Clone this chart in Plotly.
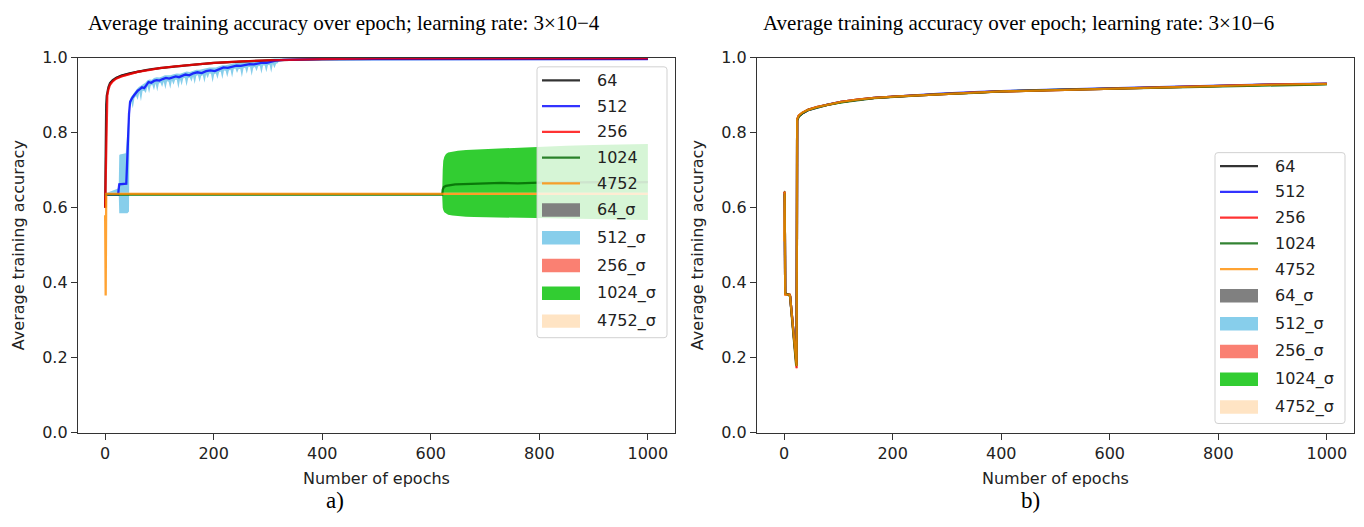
import plotly.graph_objects as go

W, H = 1364, 527

# ---------------- panel a) learning rate 3e-4 ----------------
ep_a_fast = [0, 1, 2, 3, 4, 6, 9, 14, 20, 30, 45, 60, 80, 100, 130, 160, 200, 250, 300, 400, 500, 700, 1000]
acc_a_64 = [0.600, 0.790, 0.875, 0.898, 0.910, 0.921, 0.932, 0.940, 0.946, 0.952, 0.958, 0.963, 0.968, 0.972,
            0.977, 0.981, 0.986, 0.990, 0.993, 0.996, 0.997, 0.997, 0.997]
acc_a_256 = [0.600, 0.700, 0.830, 0.880, 0.900, 0.915, 0.928, 0.937, 0.944, 0.950, 0.957, 0.962, 0.967, 0.972,
             0.977, 0.981, 0.986, 0.990, 0.993, 0.996, 0.998, 0.998, 0.998]
sd_a_64 = [0.004, 0.010, 0.008, 0.006, 0.005, 0.004, 0.004, 0.003, 0.003, 0.003, 0.003, 0.003, 0.002, 0.002,
           0.002, 0.002, 0.002, 0.002, 0.001, 0.001, 0.001, 0.001, 0.001]
sd_a_256 = [0.004, 0.012, 0.009, 0.006, 0.005, 0.004, 0.004, 0.003, 0.003, 0.003, 0.003, 0.003, 0.002, 0.002,
            0.002, 0.002, 0.002, 0.002, 0.001, 0.001, 0.001, 0.001, 0.001]

ep_a_512 = [0, 24, 25, 26, 39, 40, 42, 44, 46, 48, 50, 53, 56, 60, 64, 68, 72, 76, 80, 85, 90, 95, 100, 106, 112,
            118, 124, 130, 136, 142, 148, 155, 162, 170, 178, 186, 194, 202, 210, 218, 226, 234, 242, 250, 258,
            266, 274, 282, 290, 298, 306, 314, 330, 360, 400, 500, 700, 1000]
acc_a_512 = [0.635, 0.635, 0.650, 0.662, 0.664, 0.700, 0.790, 0.850, 0.882, 0.890, 0.893, 0.899, 0.905, 0.912,
             0.916, 0.921, 0.919, 0.928, 0.935, 0.933, 0.938, 0.940, 0.939, 0.943, 0.946, 0.944, 0.948, 0.950,
             0.948, 0.952, 0.955, 0.953, 0.958, 0.961, 0.959, 0.964, 0.966, 0.964, 0.969, 0.974, 0.973, 0.977,
             0.979, 0.978, 0.981, 0.983, 0.982, 0.985, 0.987, 0.986, 0.990, 0.992, 0.994, 0.995, 0.996, 0.996,
             0.996, 0.996]

# upper edge of the 512 σ band
ep_a_512_hi = [0, 25, 26, 27, 38, 41, 44, 45, 47, 50, 55, 58, 62, 66, 70, 74, 78, 82, 86, 90, 95, 100, 105, 110,
               115, 120, 126, 132, 138, 144, 150, 156, 162, 168, 174, 180, 186, 192, 198, 204, 210, 216, 222,
               228, 234, 240, 246, 252, 258, 264, 270, 276, 282, 288, 294, 300, 306, 312, 320, 330, 360, 1000]
hi_a_512 = [0.638, 0.652, 0.740, 0.742, 0.745, 0.800, 0.875, 0.885, 0.894, 0.901, 0.911, 0.916, 0.922, 0.926,
            0.928, 0.933, 0.940, 0.942, 0.941, 0.946, 0.948, 0.947, 0.950, 0.953, 0.953, 0.953, 0.956, 0.958,
            0.957, 0.961, 0.963, 0.962, 0.966, 0.968, 0.968, 0.969, 0.972, 0.974, 0.973, 0.974, 0.977, 0.980,
            0.980, 0.982, 0.985, 0.986, 0.986, 0.986, 0.989, 0.991, 0.990, 0.991, 0.993, 0.995, 0.995, 0.996,
            0.997, 0.998, 0.998, 0.998, 0.998, 0.998]
# lower edge of the 512 σ band (noisy, with frequent dips)
ep_a_512_lo = [0, 25, 26, 38, 41, 44, 45, 48, 51, 54, 57, 60, 63, 66, 69, 72, 75, 78, 81, 84, 87, 90, 93, 96, 99,
               102, 105, 108, 111, 114, 117, 120, 123, 126, 129, 132, 135, 138, 141, 144, 147, 150, 153, 156, 159,
               162, 165, 168, 171, 174, 177, 180, 183, 186, 189, 192, 195, 198, 201, 204, 207, 210, 213, 216, 219,
               222, 225, 228, 231, 234, 237, 240, 243, 246, 249, 252, 255, 258, 261, 264, 267, 270, 273, 276, 279,
               282, 285, 288, 291, 294, 297, 300, 303, 306, 309, 312, 315, 318, 320, 330, 360, 1000]
lo_a_512 = [0.632, 0.640, 0.585, 0.585, 0.585, 0.590, 0.862, 0.882, 0.865, 0.892, 0.898, 0.887, 0.907, 0.884,
            0.912, 0.911, 0.906, 0.924, 0.905, 0.926, 0.927, 0.913, 0.931, 0.910, 0.931, 0.933, 0.922, 0.936,
            0.916, 0.937, 0.936, 0.917, 0.939, 0.928, 0.941, 0.941, 0.918, 0.942, 0.926, 0.945, 0.946, 0.924,
            0.945, 0.947, 0.936, 0.950, 0.930, 0.952, 0.953, 0.935, 0.951, 0.953, 0.933, 0.956, 0.945, 0.958,
            0.957, 0.934, 0.956, 0.958, 0.943, 0.961, 0.963, 0.943, 0.966, 0.965, 0.948, 0.966, 0.968, 0.947,
            0.970, 0.971, 0.959, 0.970, 0.970, 0.948, 0.972, 0.973, 0.957, 0.975, 0.975, 0.952, 0.973, 0.975,
            0.964, 0.977, 0.978, 0.957, 0.979, 0.979, 0.961, 0.980, 0.981, 0.960, 0.983, 0.972, 0.984, 0.985,
            0.990, 0.992, 0.994, 0.994]

ep_a_1024 = [0, 621, 622, 624, 628, 635, 645, 660, 680, 700, 730, 760, 800, 850, 900, 950, 1000]
acc_a_1024 = [0.635, 0.635, 0.648, 0.655, 0.658, 0.660, 0.662, 0.663, 0.664, 0.665, 0.666, 0.665, 0.667, 0.667,
              0.668, 0.667, 0.668]
ep_a_1024_band = [0, 621, 622, 623, 625, 628, 632, 640, 650, 665, 680, 700, 730, 760, 800, 850, 900, 950, 1000]
hi_a_1024 = [0.637, 0.637, 0.700, 0.725, 0.736, 0.743, 0.747, 0.750, 0.752, 0.754, 0.755, 0.757, 0.759, 0.761,
             0.763, 0.765, 0.767, 0.768, 0.770]
lo_a_1024 = [0.633, 0.633, 0.600, 0.594, 0.588, 0.584, 0.581, 0.579, 0.577, 0.576, 0.575, 0.574, 0.573, 0.572,
             0.571, 0.570, 0.569, 0.568, 0.567]

ep_a_4752 = [0, 1, 2, 1000]
acc_a_4752 = [0.580, 0.366, 0.637, 0.637]
sd_a_4752 = [0.004, 0.004, 0.003, 0.003]

# ---------------- panel b) learning rate 3e-6 ----------------
ep_b = [0, 1, 2, 6, 10, 11, 16, 20, 22, 23, 24, 27, 33, 44, 60, 80, 105, 135, 166, 210, 250, 290, 350, 400, 500,
        600, 700, 800, 900, 1000]
acc_b_64 = [0.643, 0.640, 0.370, 0.368, 0.368, 0.364, 0.280, 0.215, 0.185, 0.180, 0.835, 0.845, 0.852, 0.861,
            0.868, 0.875, 0.882, 0.888, 0.893, 0.897, 0.900, 0.904, 0.907, 0.910, 0.914, 0.918, 0.921, 0.925,
            0.928, 0.930]
acc_b_512 = [0.640, 0.638, 0.371, 0.369, 0.367, 0.363, 0.282, 0.218, 0.188, 0.182, 0.833, 0.844, 0.851, 0.860,
             0.867, 0.875, 0.882, 0.888, 0.893, 0.897, 0.901, 0.904, 0.908, 0.911, 0.915, 0.919, 0.922, 0.926,
             0.929, 0.931]
acc_b_256 = [0.642, 0.639, 0.369, 0.368, 0.368, 0.365, 0.279, 0.212, 0.180, 0.172, 0.834, 0.845, 0.852, 0.861,
             0.868, 0.875, 0.882, 0.888, 0.893, 0.897, 0.900, 0.904, 0.907, 0.910, 0.914, 0.918, 0.921, 0.925,
             0.928, 0.930]
acc_b_1024 = [0.636, 0.636, 0.372, 0.368, 0.366, 0.362, 0.270, 0.205, 0.182, 0.178, 0.832, 0.843, 0.851, 0.860,
              0.867, 0.874, 0.881, 0.887, 0.892, 0.896, 0.900, 0.903, 0.906, 0.910, 0.914, 0.917, 0.921, 0.924,
              0.927, 0.929]
acc_b_4752 = [0.510, 0.643, 0.368, 0.368, 0.368, 0.364, 0.284, 0.220, 0.186, 0.178, 0.836, 0.846, 0.853, 0.861,
              0.868, 0.875, 0.882, 0.888, 0.893, 0.897, 0.900, 0.904, 0.907, 0.910, 0.914, 0.918, 0.921, 0.925,
              0.928, 0.930]
sd_b_64 = [0.004, 0.004, 0.004, 0.003, 0.003, 0.003, 0.004, 0.004, 0.004, 0.004, 0.004, 0.003, 0.003, 0.003,
           0.002, 0.002, 0.002, 0.002, 0.002, 0.002, 0.002, 0.002, 0.002, 0.002, 0.002, 0.002, 0.002, 0.002,
           0.002, 0.002]
sd_b_512 = list(sd_b_64)
sd_b_256 = list(sd_b_64)
sd_b_1024 = list(sd_b_64)
sd_b_4752 = list(sd_b_64)

batch_names = ["64", "512", "256", "1024", "4752"]
line_colors = ["rgba(0,0,0,0.8)", "rgba(0,0,255,0.8)", "rgba(255,0,0,0.8)", "rgba(0,100,0,0.8)",
               "rgba(255,140,0,0.8)"]
band_colors = ["#808080", "#87CEEB", "#FA8072", "#32CD32", "#FFE4C4"]

x_ticks = [0, 200, 400, 600, 800, 1000]
y_ticks = [0.0, 0.2, 0.4, 0.6, 0.8, 1.0]
y_ticktext = ["0.0", "0.2", "0.4", "0.6", "0.8", "1.0"]

fig = go.Figure()


def add_band(x_hi, hi, x_lo, lo, color, xa, ya):
    # closed polygon: upper edge left→right, lower edge right→left
    fig.add_trace(go.Scatter(
        x=list(x_hi) + list(x_lo)[::-1], y=list(hi) + list(lo)[::-1],
        fill="toself", fillcolor=color, line=dict(width=0), mode="lines",
        hoverinfo="skip", showlegend=False, xaxis=xa, yaxis=ya))


def add_sigma_band(x, mean, sd, color, xa, ya):
    add_band(x, [m + s for m, s in zip(mean, sd)], x, [m - s for m, s in zip(mean, sd)], color, xa, ya)


def add_line(x, y, color, xa, ya):
    fig.add_trace(go.Scatter(
        x=x, y=y, mode="lines", line=dict(color=color, width=2.3),
        showlegend=False, xaxis=xa, yaxis=ya))


# panel a bands
add_sigma_band(ep_a_fast, acc_a_64, sd_a_64, band_colors[0], "x", "y")
add_band(ep_a_512_hi, hi_a_512, ep_a_512_lo, lo_a_512, band_colors[1], "x", "y")
add_sigma_band(ep_a_fast, acc_a_256, sd_a_256, band_colors[2], "x", "y")
add_band(ep_a_1024_band, hi_a_1024, ep_a_1024_band, lo_a_1024, band_colors[3], "x", "y")
add_sigma_band(ep_a_4752, acc_a_4752, sd_a_4752, band_colors[4], "x", "y")

# panel a lines
add_line(ep_a_fast, acc_a_64, line_colors[0], "x", "y")
add_line(ep_a_512, acc_a_512, line_colors[1], "x", "y")
add_line(ep_a_fast, acc_a_256, line_colors[2], "x", "y")
add_line(ep_a_1024, acc_a_1024, line_colors[3], "x", "y")
add_line(ep_a_4752, acc_a_4752, line_colors[4], "x", "y")

# panel b
b_means = [acc_b_64, acc_b_512, acc_b_256, acc_b_1024, acc_b_4752]
b_sds = [sd_b_64, sd_b_512, sd_b_256, sd_b_1024, sd_b_4752]
for m_list, s_list, col in zip(b_means, b_sds, band_colors):
    add_sigma_band(ep_b, m_list, s_list, col, "x2", "y2")
for m_list, col in zip(b_means, line_colors):
    add_line(ep_b, m_list, col, "x2", "y2")


def px(x):
    return x / W


def py(y):
    return 1 - y / H


tick_font = dict(family="DejaVu Sans", size=16, color="#222")
axis_common = dict(showline=True, linecolor="#333", linewidth=1.3, mirror=True, ticks="outside",
                   ticklen=6, tickwidth=1.2, tickcolor="#333", showgrid=False, zeroline=False,
                   tickfont=tick_font)

fig.update_layout(
    width=W, height=H, margin=dict(l=0, r=0, t=0, b=0),
    paper_bgcolor="white", plot_bgcolor="white", showlegend=False,
    xaxis=dict(domain=[px(78), px(675)], range=[-50, 1050], tickvals=x_ticks, anchor="y", **axis_common),
    yaxis=dict(domain=[py(439.5), py(50.5)], range=[0, 1], tickvals=y_ticks, ticktext=y_ticktext,
               anchor="x", **axis_common),
    xaxis2=dict(domain=[px(757), px(1354)], range=[-50, 1050], tickvals=x_ticks, anchor="y2", **axis_common),
    yaxis2=dict(domain=[py(439.5), py(50.5)], range=[0, 1], tickvals=y_ticks, ticktext=y_ticktext,
                anchor="x2", **axis_common),
)

label_font = dict(family="DejaVu Sans", size=16, color="#222")
serif_font = dict(family="Liberation Serif", size=21, color="black")
annotations = [
    dict(text="Average training accuracy over epoch; learning rate: 3×10−4", x=px(344), y=py(15), font=serif_font),
    dict(text="Average training accuracy over epoch; learning rate: 3×10−6", x=px(1018), y=py(15),
         font=serif_font),
    dict(text="Number of epochs", x=px(376.5), y=py(487), font=label_font),
    dict(text="Number of epochs", x=px(1055.5), y=py(487), font=label_font),
    dict(text="Average training accuracy", x=px(18), y=py(245), textangle=-90, font=label_font),
    dict(text="Average training accuracy", x=px(697), y=py(245), textangle=-90, font=label_font),
    dict(text="a)", x=px(335), y=py(510), font=dict(family="Liberation Serif", size=23, color="black")),
    dict(text="b)", x=px(1030), y=py(510), font=dict(family="Liberation Serif", size=23, color="black")),
]
for a in annotations:
    a.update(xref="paper", yref="paper", showarrow=False, xanchor="center", yanchor="middle")

# hand-built legends (lines, then σ patches), one per panel
legend_offsets = [14, 40.7, 67.4, 94.1, 120.8, 148.6, 177.4, 206.2, 235, 263.8]
shapes = []


def build_legend(left, top, width=130, height=281):
    r = 3
    x0, x1, y0, y1 = left, left + width, top, top + height
    path = (f"M {px(x0 + r)},{py(y0)} L {px(x1 - r)},{py(y0)} Q {px(x1)},{py(y0)} {px(x1)},{py(y0 + r)} "
            f"L {px(x1)},{py(y1 - r)} Q {px(x1)},{py(y1)} {px(x1 - r)},{py(y1)} "
            f"L {px(x0 + r)},{py(y1)} Q {px(x0)},{py(y1)} {px(x0)},{py(y1 - r)} "
            f"L {px(x0)},{py(y0 + r)} Q {px(x0)},{py(y0)} {px(x0 + r)},{py(y0)} Z")
    shapes.append(dict(type="path", path=path, xref="paper", yref="paper", layer="above",
                       fillcolor="rgba(255,255,255,0.8)", line=dict(color="rgba(204,204,204,0.9)", width=1)))
    labels = batch_names + [n + "_σ" for n in batch_names]
    for i, lab in enumerate(labels):
        yc = top + legend_offsets[i]
        if i < 5:
            shapes.append(dict(type="line", xref="paper", yref="paper", layer="above",
                               x0=px(left + 5), x1=px(left + 43), y0=py(yc), y1=py(yc),
                               line=dict(color=line_colors[i], width=2.3)))
        else:
            shapes.append(dict(type="rect", xref="paper", yref="paper", layer="above",
                               x0=px(left + 5), x1=px(left + 43), y0=py(yc - 7), y1=py(yc + 7),
                               fillcolor=band_colors[i - 5], line=dict(width=0)))
        annotations.append(dict(text=lab, x=px(left + 58), y=py(yc), xref="paper", yref="paper",
                                showarrow=False, xanchor="left", yanchor="middle", font=label_font))


build_legend(537, 60)
build_legend(1215, 149)

fig.update_layout(annotations=annotations, shapes=shapes)
fig.write_html("out.html")
